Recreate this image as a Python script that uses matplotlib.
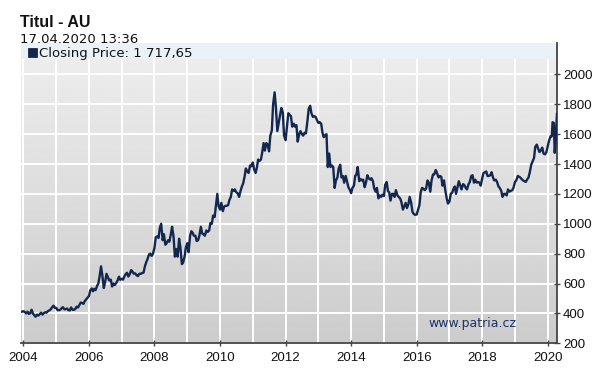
import numpy as np
import pandas as pd
import matplotlib
matplotlib.use("Agg")
import matplotlib.pyplot as plt
import matplotlib.dates as mdates

# ---- data: gold closing price (USD), semi-monthly readings (1st & 15th) ----
start_date = ["2003-12-05"]
start_value = [410]
y2004 = [415, 410, 400, 412, 397, 400, 425, 400, 388, 378, 392, 386, 395, 405, 392, 402, 408, 405, 416, 420, 428, 441, 452, 438]
y2005 = [437, 422, 422, 425, 434, 442, 428, 428, 433, 422, 420, 440, 425, 424, 429, 445, 440, 455, 473, 470, 464, 483, 495, 505]
y2006 = [517, 555, 567, 548, 565, 556, 584, 600, 655, 715, 643, 570, 614, 665, 640, 620, 626, 580, 600, 590, 604, 620, 646, 625]
y2007 = [632, 626, 650, 664, 672, 647, 663, 690, 680, 666, 668, 655, 650, 665, 665, 670, 673, 713, 743, 763, 795, 800, 785, 800]
y2008 = [840, 910, 915, 905, 975, 1000, 890, 930, 860, 870, 890, 880, 930, 980, 910, 780, 830, 780, 900, 845, 730, 740, 780, 840]
y2009 = [870, 810, 920, 950, 940, 920, 920, 885, 890, 920, 980, 935, 930, 920, 955, 945, 955, 1005, 1000, 1055, 1045, 1120, 1200, 1120]
y2010 = [1095, 1140, 1085, 1115, 1120, 1120, 1125, 1160, 1180, 1230, 1220, 1230, 1210, 1205, 1180, 1215, 1250, 1270, 1315, 1370, 1350, 1340, 1390, 1385]
y2011 = [1410, 1365, 1340, 1375, 1430, 1420, 1430, 1475, 1540, 1490, 1540, 1530, 1485, 1590, 1625, 1800, 1880, 1780, 1620, 1670, 1730, 1775, 1745, 1590]
y2012 = [1560, 1640, 1740, 1730, 1720, 1650, 1670, 1650, 1660, 1550, 1600, 1620, 1600, 1590, 1610, 1605, 1690, 1770, 1790, 1740, 1715, 1720, 1715, 1695]
y2013 = [1675, 1680, 1670, 1610, 1580, 1590, 1600, 1380, 1470, 1380, 1390, 1380, 1240, 1290, 1310, 1370, 1395, 1310, 1320, 1275, 1320, 1285, 1245, 1230]
y2014 = [1205, 1240, 1255, 1320, 1330, 1380, 1285, 1300, 1290, 1295, 1245, 1275, 1325, 1305, 1295, 1305, 1285, 1235, 1215, 1240, 1170, 1190, 1180, 1195]
y2015 = [1185, 1260, 1280, 1220, 1210, 1155, 1200, 1200, 1180, 1225, 1190, 1180, 1170, 1145, 1095, 1115, 1140, 1105, 1130, 1180, 1140, 1080, 1065, 1060]
y2016 = [1062, 1090, 1125, 1210, 1240, 1235, 1225, 1235, 1290, 1275, 1215, 1290, 1330, 1330, 1360, 1340, 1310, 1320, 1315, 1255, 1290, 1225, 1170, 1135]
y2017 = [1150, 1200, 1210, 1235, 1250, 1200, 1245, 1285, 1255, 1230, 1265, 1260, 1240, 1230, 1265, 1280, 1320, 1325, 1275, 1295, 1275, 1280, 1275, 1255]
y2018 = [1305, 1340, 1345, 1350, 1320, 1320, 1325, 1345, 1310, 1290, 1295, 1280, 1250, 1240, 1220, 1180, 1200, 1200, 1190, 1230, 1215, 1220, 1225, 1240]
y2019 = [1280, 1290, 1320, 1315, 1310, 1300, 1290, 1285, 1280, 1295, 1310, 1345, 1395, 1415, 1440, 1515, 1530, 1505, 1480, 1490, 1510, 1470, 1465, 1475]
dates_2020 = ["2020-01-01", "2020-01-15", "2020-02-01", "2020-02-15", "2020-02-24", "2020-03-09",
              "2020-03-19", "2020-04-01", "2020-04-09", "2020-04-14", "2020-04-17"]
y2020 = [1520, 1555, 1585, 1585, 1680, 1675, 1475, 1580, 1690, 1740, 1717.65]

yearly = {2004: y2004, 2005: y2005, 2006: y2006, 2007: y2007, 2008: y2008, 2009: y2009,
          2010: y2010, 2011: y2011, 2012: y2012, 2013: y2013, 2014: y2014, 2015: y2015,
          2016: y2016, 2017: y2017, 2018: y2018, 2019: y2019}

x_tick_years = [2004, 2006, 2008, 2010, 2012, 2014, 2016, 2018, 2020]
y_ticks = [200, 400, 600, 800, 1000, 1200, 1400, 1600, 1800, 2000]

title = "Titul - AU"
stamp = "17.04.2020 13:36"
legend_label = "Closing Price: 1 717,65"
watermark = "www.patria.cz"

# ---- build series ----
dates = list(pd.to_datetime(start_date))
values = list(start_value)
for yr, vals in yearly.items():
    dates += list(pd.date_range(f"{yr}-01-01", periods=24, freq="SMS"))
    values += vals
dates += list(pd.to_datetime(dates_2020))
values += y2020

# ---- figure ----
W, H = 601, 377
fig = plt.figure(figsize=(W / 100, H / 100), dpi=100)
fig.patch.set_facecolor("white")

ax_l, ax_r, ax_t, ax_b = 21, 556.7, 43, 343.3
ax = fig.add_axes([ax_l / W, 1 - ax_b / H, (ax_r - ax_l) / W, (ax_b - ax_t) / H])

x0 = mdates.date2num(pd.Timestamp("2003-12-05"))
x1 = mdates.date2num(pd.Timestamp("2020-04-10"))
ymin, ymax = 200, 2210
ax.set_xlim(x0, x1)
ax.set_ylim(ymin, ymax)

# gradient background
grad = np.linspace(0.80, 0.935, 256).reshape(-1, 1)
ax.imshow(grad, extent=[x0, x1, ymin, ymax], origin="lower", aspect="auto",
          cmap="gray", vmin=0, vmax=1, zorder=0, interpolation="bilinear")

# grid
for yv in y_ticks:
    ax.axhline(yv, color="white", lw=1.4, zorder=1)
for yr in range(2004, 2021):
    ax.axvline(mdates.date2num(pd.Timestamp(f"{yr}-01-01")), color="white", lw=1.4, zorder=1)

# light blue legend band at top
band_lo = 2105
ax.axhspan(band_lo, ymax, color="#eaf2f8", zorder=2, lw=0)

# series
ax.plot(dates, values, color="#14284f", lw=1.7, zorder=3, solid_joinstyle="round")

# spines
for s in ["left", "top"]:
    ax.spines[s].set_visible(False)
ax.spines["right"].set_color("#444444")
ax.spines["bottom"].set_color("#444444")
ax.spines["right"].set_linewidth(1.3)
ax.spines["bottom"].set_linewidth(1.3)

ax.yaxis.tick_right()
ax.set_yticks(y_ticks)
ax.set_yticklabels([str(v) for v in y_ticks])
ax.set_xticks([mdates.date2num(pd.Timestamp(f"{y}-01-01")) for y in x_tick_years])
ax.set_xticklabels([str(y) for y in x_tick_years])
ax.tick_params(axis="y", direction="inout", length=5, width=1, color="#444444",
               pad=2, labelsize=9.5, labelcolor="#111111")
ax.tick_params(axis="x", direction="inout", length=5, width=1, color="#444444",
               pad=4, labelsize=9.5, labelcolor="#111111")
for lab in ax.get_xticklabels() + ax.get_yticklabels():
    lab.set_family(["Liberation Sans", "DejaVu Sans"])

# watermark
ax.text(0.925, 0.053, watermark, transform=ax.transAxes, ha="right", va="baseline",
        fontsize=9, color="#1c3366", family=["DejaVu Sans"], zorder=4)

# header texts
def fx(px):
    return px / W

def fy(py):
    return 1 - py / H

fig.text(fx(20), fy(26.7), title, fontsize=11.5, fontweight="bold",
         family=["Liberation Sans", "DejaVu Sans"], va="baseline", ha="left", color="#111111")
fig.text(fx(20), fy(42.7), stamp, fontsize=9.5, family=["DejaVu Sans"],
         va="baseline", ha="left", color="#111111")
fig.patches.append(plt.Rectangle((fx(28), fy(56.5)), 9 / W, 9 / H, transform=fig.transFigure,
                                 facecolor="#14284f", edgecolor="#0a1530", lw=0.5, zorder=5))
fig.text(fx(39), fy(57.3), legend_label, fontsize=9.5, family=["DejaVu Sans"],
         va="baseline", ha="left", color="#111111", zorder=6)

fig.savefig("out.png", dpi=100)
